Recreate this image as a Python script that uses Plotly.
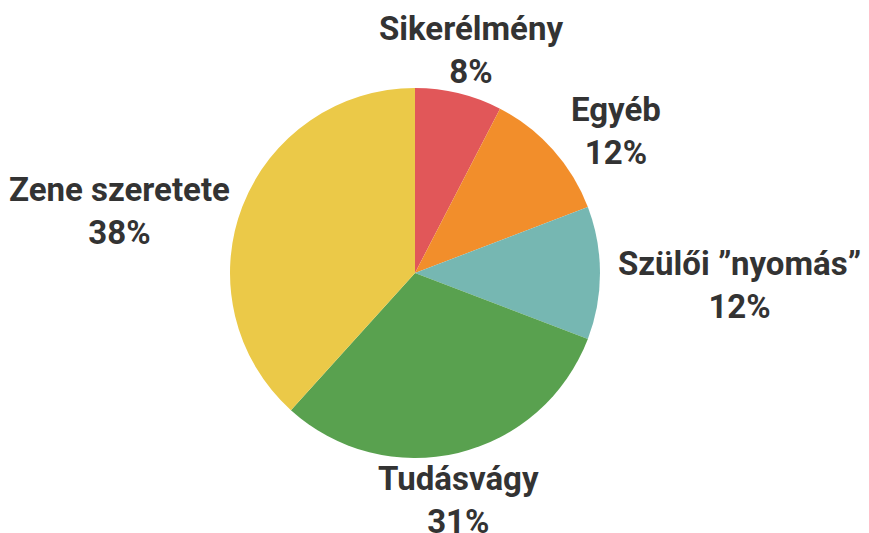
import math
import plotly.graph_objects as go

labels = ["Sikerélmény", "Egyéb", "Szülői ”nyomás”", "Tudásvágy", "Zene szeretete"]
values = [7.6, 11.6, 11.6, 30.9, 38.3]
colors = ["#E15759", "#F28E2B", "#76B7B2", "#59A14F", "#EBC948"]

W, H = 869, 533
OFF = 8            # page body margin offset of the plot div
CX, CY, R = 415 - OFF, 273 - OFF, 185   # pie centre / radius in figure pixels

fig = go.Figure(go.Pie(
    labels=labels,
    values=values,
    sort=False,
    direction="clockwise",
    rotation=0,
    marker=dict(colors=colors, line=dict(width=0)),
    textinfo="none",
    domain=dict(x=[(CX - R) / W, (CX + R) / W],
                y=[1 - (CY + R) / H, 1 - (CY - R) / H]),
    showlegend=False,
    hoverinfo="label+percent",
))

# labels placed next to the middle of each slice, derived from the values
total = sum(values)
cum = 0.0
annotations = []
for lab, v in zip(labels, values):
    mid = (cum + v / 2) / total
    cum += v
    th = 2 * math.pi * mid
    s, c = math.sin(th), math.cos(th)
    ex, ey = CX + R * s, CY - R * c
    pct = round(v / total * 100)
    ann = dict(x=ex / W, y=1 - ey / H, xref="paper", yref="paper",
               text=f"<b>{lab}</b><br><b>{pct}%</b>", showarrow=False,
               align="center",
               font=dict(family="Roboto", size=33, color="#333333"))
    if abs(s) >= abs(c):
        if s > 0:
            ann.update(xanchor="left", yanchor="middle", xshift=16,
                       yshift=-12 + 46 * c)
        else:
            ann.update(xanchor="right", yanchor="middle", xshift=-10,
                       yshift=-4)
    else:
        ann.update(xanchor="center", yanchor="bottom" if c > 0 else "top",
                   xshift=6 + 6 * c,
                   yshift=0 if c > 0 else -4)
    annotations.append(ann)

fig.update_layout(
    width=W, height=H,
    margin=dict(l=0, r=0, t=0, b=0),
    paper_bgcolor="white",
    plot_bgcolor="white",
    annotations=annotations,
)

fig.write_html("out.html")
